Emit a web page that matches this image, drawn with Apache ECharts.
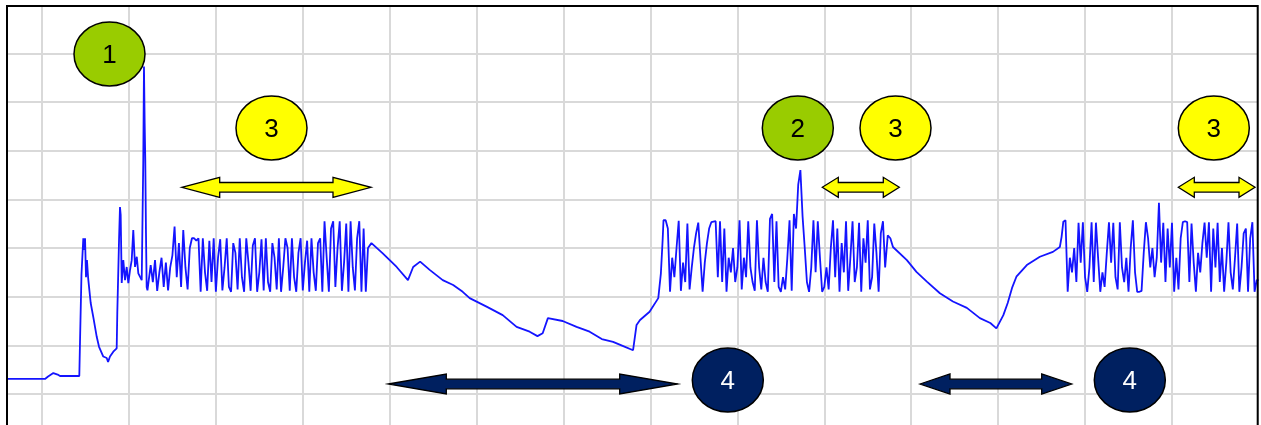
<!DOCTYPE html>
<html>
<head>
<meta charset="utf-8">
<title>Signal trace</title>
<script src="https://cdn.jsdelivr.net/npm/echarts@6/dist/echarts.min.js"></script>
<style>
  html, body { margin: 0; padding: 0; background: #fff; }
  #chart { width: 1261px; height: 425px; }
</style>
</head>
<body>
<div id="chart"></div>
<script>
// time axis: 0..150 (10 per grid cell), value axis: 0..90 (10 per grid cell)
const STEP = 0.25

// smooth parts as [time, value]
const startup = [
  [5.5, 13.1], [10.34, 13.1], [10.7, 13.6], [11.3, 14.3], [11.8, 14.0], [12.07, 13.7],
  [14.29, 13.7], [14.37, 20.7], [14.54, 34.6], [14.75, 42.0], [14.85, 39.6], [14.95, 42.0],
  [15.06, 34.0], [15.17, 37.5], [15.3, 34.0], [15.33, 33.4], [15.6, 28.7], [15.9, 25.8],
  [16.3, 21.7], [16.56, 19.7], [16.67, 19.7], [17.05, 17.7], [17.44, 17.4], [17.6, 16.6],
  [17.82, 17.7], [18.2, 18.7], [18.59, 19.4], [18.66, 26.6], [18.86, 41.6], [18.97, 48.4],
  [19.05, 46.8], [19.17, 32.8], [19.35, 37.5], [19.55, 33.4], [19.74, 36.1], [19.93, 32.8],
  [20.12, 35.4], [20.32, 37.5], [20.5, 43.7], [20.7, 36.1], [20.9, 38.2], [21.08, 34.8],
  [21.27, 34.1], [21.47, 33.4], [21.58, 33.4], [21.65, 58.0], [21.73, 77.3], [21.81, 65.6],
  [21.88, 58.0], [21.96, 43.1], [22.04, 32.0], [22.13, 31.3]
]

const decay1 = [
  [47.9, 41.0], [49.2, 38.9], [50.8, 36.1], [52.1, 33.4], [52.7, 36.1], [53.5, 37.2],
  [54.6, 35.5], [56.1, 33.4], [57.3, 32.4], [58.4, 31.0], [59.2, 29.7], [61.2, 27.9],
  [63.0, 26.2], [64.6, 23.8], [66.1, 22.8], [67.0, 21.9], [67.6, 22.5], [68.2, 25.6],
  [69.9, 25.0], [71.5, 23.8], [73.0, 22.8], [74.4, 21.3], [75.7, 20.7], [76.8, 19.9],
  [78.0, 19.0], [78.4, 24.2], [78.8, 25.2], [79.9, 26.9], [80.9, 29.7], [81.2, 34.8],
  [81.4, 41.6], [81.5, 45.7]
]

const decay2 = [
  [107.3, 42.6], [107.6, 42.0], [107.9, 40.2], [109.5, 37.5], [110.6, 35.1], [111.8, 33.1],
  [113.3, 30.7], [114.8, 29.0], [116.4, 27.7], [117.9, 25.6], [119.1, 24.6], [119.8, 23.5],
  [120.6, 26.2], [121.1, 28.7], [121.6, 31.8], [122.1, 34.1], [123.3, 36.5], [124.8, 38.2],
  [126.3, 39.2], [127.1, 40.2], [127.3, 42.3], [127.5, 45.4]
]

// oscillating parts, one value every STEP
const burst1Start = 22.25
const burst1 = [
  31.5, 36.5, 33, 37.5, 31.2, 35, 38, 32, 37, 31.3, 36, 38.5,
  44.4, 34, 41, 32, 43.7, 36, 31.5, 40, 42, 42, 41.5, 42,
  31, 42, 35, 31.2, 41.5, 33, 42, 31, 38, 41.8, 31.3, 36, 42, 32, 31, 41, 39, 31.5, 42, 34,
  31, 42, 37, 31.2, 40.5, 42, 31, 35, 41.8, 31.3, 42, 33, 31, 41, 38, 31.5, 42, 31, 36, 42,
  40, 31.2, 42, 34, 31, 39, 42, 31.3, 37, 41.5, 31, 42, 35, 31.2, 41, 42,
  31, 45.5, 38, 31, 44, 45.5, 32, 40, 45.5, 31.2, 37, 45, 31, 45.5, 36, 31.3, 42, 45.5,
  31, 44, 31, 40
]

const burst2Start = 81.75
const burst2 = [
  45.7, 44, 31, 38, 34, 40, 45.6, 31.2, 37, 33, 45, 31.5, 36, 40, 43, 45.2, 38, 31, 37, 41,
  44, 45.3, 45.4, 45.5, 34, 45.5, 33, 44, 31, 38, 35, 40, 33, 36, 45.7, 31.5, 38, 34, 45.5, 36,
  33, 31.2, 45.7, 36, 31.5, 38, 33, 31, 46, 47, 33, 45.5, 32, 31, 34, 31.5, 38, 45.7, 31.2, 47,
  44, 53, 56, 46.5, 40, 33, 31, 36, 45.7, 35, 45.5, 38, 31, 32, 36, 31.5, 40, 45.7, 34, 44,
  31, 41, 35, 45.5, 31.2, 38, 45.5, 33, 36, 45.2, 31, 42, 37, 45.7, 31.5, 34, 45, 39, 31, 43,
  45.5, 36
]

const burst3Start = 127.75
const burst3 = [
  45.7, 31, 38, 35, 40, 33, 45.2, 37, 45.3, 34, 31, 36, 45.3, 33, 45.2, 38, 31, 35, 32, 39,
  45.3, 37, 45.2, 34, 31.5, 45.3, 36, 33, 38, 31, 40, 45.7, 35, 31, 31, 31.2, 39, 45.3, 42, 36,
  40, 34, 38, 49.3, 37, 45.2, 33, 44, 36, 45.2, 31, 38, 31.5, 42, 45.3, 45.5, 45.3, 33, 45, 37,
  31, 39, 35, 41, 45.2, 38, 45.3, 31, 44, 36, 45.2, 33, 40, 31, 37, 45.3, 35, 31.5, 38, 45,
  31, 36, 43, 44, 31, 42, 45.3, 31, 33.4, 33.4
]

function stepped(start, values) {
  return values.map((v, i) => [start + i * STEP, v])
}

const signal = [].concat(
  startup,
  stepped(burst1Start, burst1),
  decay1,
  stepped(burst2Start, burst2),
  decay2,
  stepped(burst3Start, burst3)
)

// double headed arrow outline
function arrow(x1, x2, y, head, headH, shaftH) {
  return [
    [x1, y], [x1 + head, y - headH], [x1 + head, y - shaftH], [x2 - head, y - shaftH],
    [x2 - head, y - headH], [x2, y], [x2 - head, y + headH], [x2 - head, y + shaftH],
    [x1 + head, y + shaftH], [x1 + head, y + headH]
  ]
}

function badge(cx, cy, label, fill, color) {
  return [
    {
      type: 'ellipse',
      z: 10,
      shape: { cx: cx, cy: cy, rx: 35.5, ry: 32 },
      style: { fill: fill, stroke: '#000', lineWidth: 1.5 }
    },
    {
      type: 'text',
      z: 11,
      style: {
        text: label,
        x: cx,
        y: cy + 1.5,
        fontSize: 26,
        fontFamily: '"Liberation Sans", Arial, sans-serif',
        fill: color,
        align: 'center',
        verticalAlign: 'middle',
        textAlign: 'center',
        textVerticalAlign: 'middle'
      }
    }
  ]
}

function arrowShape(x1, x2, y, head, fill) {
  return {
    type: 'polygon',
    z: 10,
    shape: { points: arrow(x1, x2, y, head, 10, 4.8) },
    style: { fill: fill, stroke: '#000', lineWidth: 1.3 }
  }
}

const YELLOW = '#ffff00'
const GREEN = '#99cc00'
const NAVY = '#002060'

const chart = echarts.init(document.getElementById('chart'))
chart.setOption({
  animation: false,
  grid: { left: -44.9, right: 2.1, top: 4.6, bottom: -17.7, outerBoundsMode: 'none' },
  xAxis: {
    type: 'value', min: 0, max: 150, interval: 10,
    axisLine: { show: false }, axisTick: { show: false }, axisLabel: { show: false },
    splitLine: { show: true, lineStyle: { color: '#d9d9d9', width: 2 } }
  },
  yAxis: {
    type: 'value', min: 0, max: 90, interval: 10,
    axisLine: { show: false }, axisTick: { show: false }, axisLabel: { show: false },
    splitLine: { show: true, lineStyle: { color: '#d9d9d9', width: 2 } }
  },
  series: [
    {
      type: 'line',
      data: signal,
      showSymbol: false,
      lineStyle: { color: '#1414ff', width: 1.8 }
    }
  ],
  graphic: [].concat(
    arrowShape(181.7, 371, 187.3, 38, YELLOW),
    arrowShape(822.3, 899.3, 187.3, 16, YELLOW),
    arrowShape(1178.3, 1255, 187.3, 16, YELLOW),
    arrowShape(388.3, 677.7, 384, 58, NAVY),
    arrowShape(920, 1071.7, 384, 30, NAVY),
    badge(109.5, 54, '1', GREEN, '#000'),
    badge(271.5, 128, '3', YELLOW, '#000'),
    badge(797.8, 128, '2', GREEN, '#000'),
    badge(895.5, 128, '3', YELLOW, '#000'),
    badge(1213.8, 128, '3', YELLOW, '#000'),
    badge(727.8, 380, '4', NAVY, '#fff'),
    badge(1129.8, 380, '4', NAVY, '#fff'),
    [
      // white margins and frame
      { type: 'rect', z: 20, shape: { x: 0, y: 0, width: 6, height: 425 }, style: { fill: '#fff' } },
      { type: 'rect', z: 20, shape: { x: 0, y: 0, width: 1261, height: 5 }, style: { fill: '#fff' } },
      { type: 'rect', z: 20, shape: { x: 1258.7, y: 0, width: 3, height: 425 }, style: { fill: '#fff' } },
      {
        type: 'rect', z: 21,
        shape: { x: 7, y: 6, width: 1250.7, height: 440 },
        style: { fill: 'none', stroke: '#000', lineWidth: 2 }
      }
    ]
  )
})
</script>
</body>
</html>
